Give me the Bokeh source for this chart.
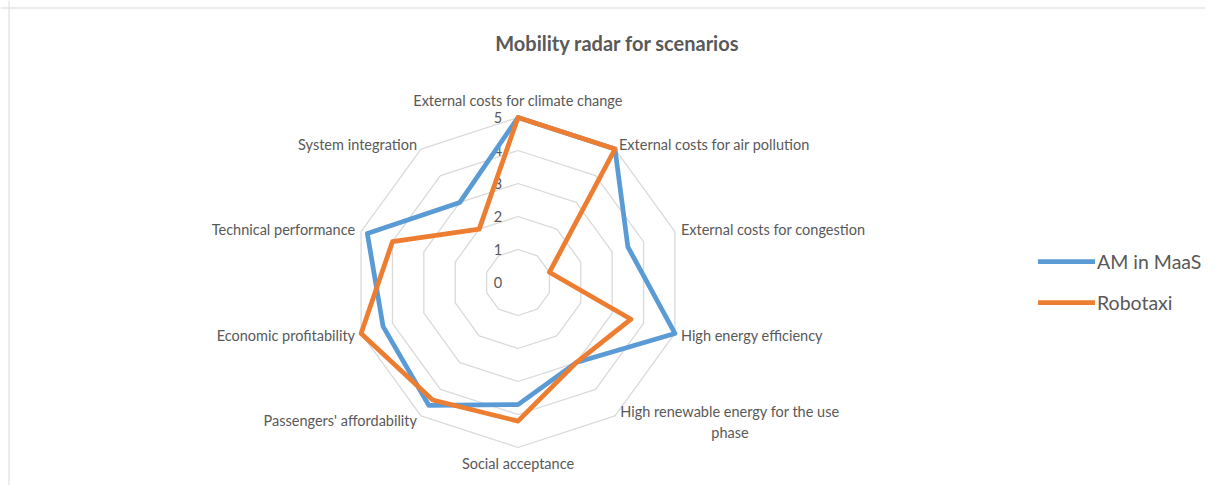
import math
from bokeh.plotting import figure
from bokeh.models import Range1d, Label, Legend, LegendItem, ColumnDataSource, Span
from bokeh.core.properties import value
from bokeh.embed import file_html
from bokeh.resources import INLINE

# ---------------- data ----------------
categories = [
    "External costs for climate change",
    "External costs for air pollution",
    "External costs for congestion",
    "High energy efficiency",
    "High renewable energy for the use\nphase",
    "Social acceptance",
    "Passengers' affordability",
    "Economic profitability",
    "Technical performance",
    "System integration",
]
am_maas = [5, 5, 3.5, 5, 3, 3.7, 4.6, 4.3, 4.8, 3]
robotaxi = [5, 5, 1, 3.6, 3, 4.2, 4.4, 5, 4, 2]
series_names = ["AM in MaaS", "Robotaxi"]
levels = [0, 1, 2, 3, 4, 5]
tick_labels = ["0", "1", "2", "3", "4", "5"]
r_max = 5

# ---------------- styling ----------------
FONT = "Lato"
TXT = "#595959"
GRID = "#d9d9d9"
BLUE = "#5b9bd5"
ORANGE = "#ed7d31"

n = len(categories)
angles = [2 * math.pi * i / n for i in range(n)]


def polar(vals):
    xs = [v * math.sin(a) for v, a in zip(vals, angles)]
    ys = [v * math.cos(a) for v, a in zip(vals, angles)]
    return xs + xs[:1], ys + ys[:1]


W, H = 1205, 485
px = 33.0  # pixels per unit
cx, cy = 517.5, 282.0  # centre in frame pixels (from top-left)

p = figure(width=W, height=H, output_backend="svg", toolbar_location=None,
           x_range=Range1d(-cx / px, (W - cx) / px),
           y_range=Range1d(-(H - cy) / px, cy / px),
           min_border=0)
p.axis.visible = False
p.grid.visible = False
p.outline_line_color = None
p.background_fill_color = "white"
p.border_fill_color = "white"

# chart-area border (left and top edges)
p.add_layout(Span(location=-(cx - 8.5) / px, dimension="height", line_color=GRID, line_width=1))
p.add_layout(Span(location=(cy - 7.5) / px, dimension="width", line_color=GRID, line_width=1))

# grid rings
for lv in levels[1:]:
    gx, gy = polar([lv] * n)
    p.line(gx, gy, line_color=GRID, line_width=1.3)

# tick labels
p.text(x=[0] * len(levels), y=levels, text=tick_labels,
       text_font=value(FONT), text_font_size="14.5px", text_color=TXT,
       text_align="center", text_baseline="middle", x_offset=-20)

# category labels
lx, ly = polar([r_max] * n)
lx, ly = lx[:-1], ly[:-1]
aligns = ["center", "left", "left", "left", "center", "center", "right", "right", "right", "right"]
xoffs = [0, 4, 6, 6, 115, 0, -4, -6, -6, -4]
yoffs = [-17, -5, -2, 2, 6, 16, 5, 2, -2, -5]
src = ColumnDataSource(dict(x=lx, y=ly, text=categories, align=aligns, xo=xoffs, yo=yoffs))
p.text(x="x", y="y", text="text", source=src, text_align="align", x_offset="xo", y_offset="yo",
       text_baseline="middle", text_font=value(FONT), text_font_size="14.5px", text_color=TXT,
       text_line_height=1.2)

# series
bx, by = polar(am_maas)
ox, oy = polar(robotaxi)
r1 = p.line(bx, by, line_color=BLUE, line_width=4.75, line_join="round", line_cap="round")
r2 = p.line(ox, oy, line_color=ORANGE, line_width=4.75, line_join="round", line_cap="round")

legend = Legend(items=[LegendItem(label=series_names[0], renderers=[r1]),
                       LegendItem(label=series_names[1], renderers=[r2])],
                location=(1038, 171), orientation="vertical",
                glyph_width=57, glyph_height=24, label_height=24, spacing=17,
                padding=0, margin=0, label_standoff=2,
                label_text_font=FONT, label_text_font_size="19.5px", label_text_color=TXT,
                border_line_color=None, background_fill_alpha=0)
p.add_layout(legend)

title = Label(x=617, y=H - 42, x_units="screen", y_units="screen",
              text="Mobility radar for scenarios", text_font=FONT, text_font_size="20px",
              text_font_style="bold", text_color=TXT, text_align="center", text_baseline="middle")
p.add_layout(title)

open("out.html", "w").write(file_html(p, INLINE))
